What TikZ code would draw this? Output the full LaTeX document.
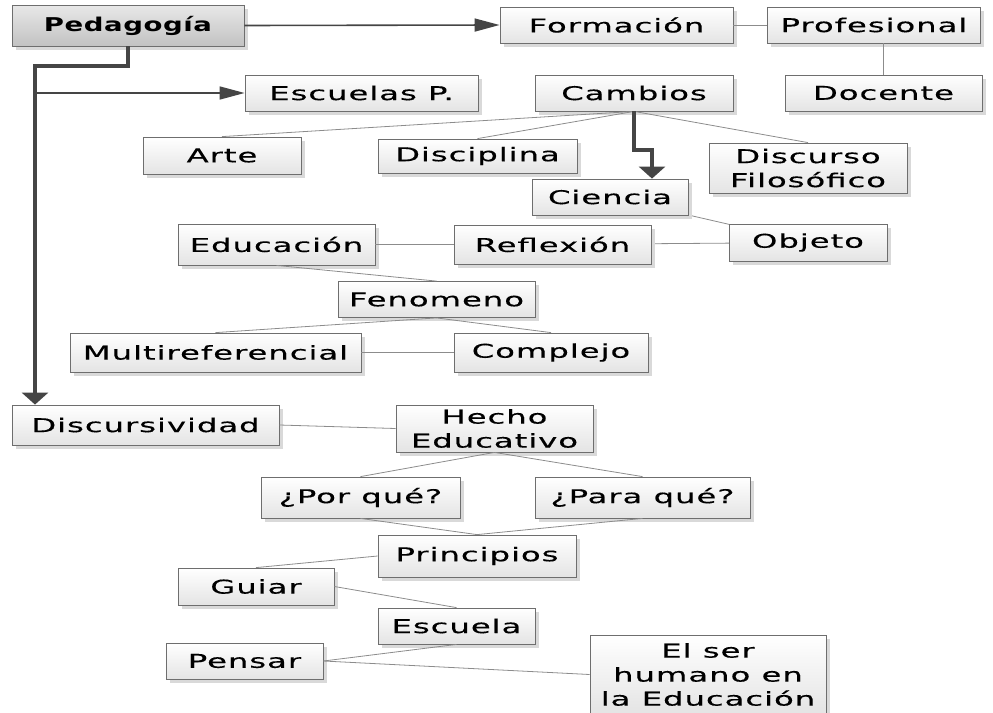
\documentclass[tikz,border=0pt]{standalone}
\usepackage{fontspec}
\setmainfont{DejaVu Sans}[FakeStretch=1.7, LetterSpace=5, FakeBold=0.3,
  BoldFeatures={FakeStretch=1.45, LetterSpace=3, FakeBold=0}]
\usetikzlibrary{arrows.meta,shadows,backgrounds,calc}

\definecolor{boxline}{HTML}{6E6E6E}
\definecolor{boxlow}{HTML}{E4E4E4}
\definecolor{linkgray}{HTML}{8C8C8C}
\definecolor{arrowdark}{HTML}{454545}

\tikzset{
  concept/.style={rectangle, draw=boxline, line width=0.8pt,
    top color=white, bottom color=boxlow, inner sep=0pt,
    align=center, font=\fontsize{19}{24}\selectfont,
    drop shadow={shadow xshift=3.5pt, shadow yshift=-3.5pt, fill=black!15, opacity=1}},
  rootbox/.style={concept, top color=black!9, bottom color=black!24,
    font=\fontsize{19}{24}\selectfont\bfseries},
  link/.style={draw=linkgray, line width=0.8pt},
  thinarrow/.style={draw=arrowdark, line width=1.6pt,
    -{Triangle[length=25pt,width=13pt]}},
  trunk/.style={draw=arrowdark, line width=3.5pt,
    -{Triangle[length=12pt,width=26pt]}},
}

\begin{document}
\begin{tikzpicture}[x=1pt,y=-1pt]
\useasboundingbox (0,0) rectangle (993,712);

% concept boxes
\node[rootbox, minimum width=232pt, minimum height=41pt] (ped) at (128,25.5) {Pedagogía};
\node[concept, minimum width=233pt, minimum height=36pt] (form) at (616.5,25) {Formación};
\node[concept, minimum width=213pt, minimum height=36pt] (prof) at (874,25) {Profesional};
\node[concept, minimum width=197pt, minimum height=36pt] (doc) at (883.5,93) {Docente};
\node[concept, minimum width=233pt, minimum height=36pt] (esc) at (361.5,93) {Escuelas P.};
\node[concept, minimum width=198pt, minimum height=36pt] (camb) at (634,93) {Cambios};
\node[concept, minimum width=158pt, minimum height=37pt] (arte) at (222,155.5) {Arte};
\node[concept, minimum width=199pt, minimum height=34pt] (disc) at (477.5,156) {Disciplina};
\node[concept, minimum width=198pt, minimum height=50pt] (dfil) at (808,168) {Discurso\\Filosófico};
\node[concept, minimum width=156pt, minimum height=36pt] (cien) at (610,197) {Ciencia};
\node[concept, minimum width=158pt, minimum height=37pt] (obj) at (808,242.5) {Objeto};
\node[concept, minimum width=197pt, minimum height=39pt] (refl) at (552.5,244.5) {Reflexión};
\node[concept, minimum width=197pt, minimum height=41pt] (educ) at (276.5,244.5) {Educación};
\node[concept, minimum width=197pt, minimum height=36pt] (fen) at (436.5,299.5) {Fenomeno};
\node[concept, minimum width=291pt, minimum height=39pt] (multi) at (215.5,352.5) {Multireferencial};
\node[concept, minimum width=194pt, minimum height=39pt] (comp) at (551,352.5) {Complejo};
\node[concept, minimum width=267pt, minimum height=40pt] (disv) at (145.5,425) {Discursividad};
\node[concept, minimum width=197pt, minimum height=47pt] (hecho) at (494.5,428.5) {Hecho\\Educativo};
\node[concept, minimum width=199pt, minimum height=41pt] (porq) at (360.5,497.5) {¿Por qué?};
\node[concept, minimum width=215pt, minimum height=41pt] (parq) at (642.5,497.5) {¿Para qué?};
\node[concept, minimum width=198pt, minimum height=42pt] (princ) at (477,556) {Principios};
\node[concept, minimum width=156pt, minimum height=37pt] (guiar) at (256,586.5) {Guiar};
\node[concept, minimum width=157pt, minimum height=36pt] (escu) at (456.5,626) {Escuela};
\node[concept, minimum width=157pt, minimum height=36pt] (pens) at (244.5,661) {Pensar};
\node[concept, minimum width=236pt, minimum height=79pt] (elser) at (708,674.5) {El ser\\humano en\\la Educación};

% trunk coordinates
\coordinate (tk) at (35,66);
\coordinate (bend) at (634,150);

\begin{pgfonlayer}{background}
  \draw[link] (cien.center) -- (obj.center);
  \draw[link] (refl.center) -- (obj.center);
\end{pgfonlayer}

% thin links between concepts
\draw[link] (form.east) -- (prof.west);
\draw[link] (doc.north) -- (doc.north |- prof.south);
\draw[link] (camb.south) -- (arte.north);
\draw[link] (camb.south) -- (disc.north);
\draw[link] (camb.south) -- (dfil.north);
\draw[link] (educ.east) -- (refl.west);
\draw[link] (educ.south) -- (fen.north);
\draw[link] (fen.south) -- (multi.north);
\draw[link] (fen.south) -- (comp.north);
\draw[link] (multi.east) -- (comp.west);
\draw[link] (disv.east) -- (hecho.west);
\draw[link] (hecho.south) -- (porq.north);
\draw[link] (hecho.south) -- (parq.north);
\draw[link] (porq.south) -- (princ.north);
\draw[link] (parq.south) -- (princ.north);
\draw[link] (guiar.north) -- (princ.west);
\draw[link] (guiar.east) -- (escu.north);
\draw[link] (pens.east) -- (escu.south);
\draw[link] (pens.east) -- (elser.west);

% arrows
\draw[thinarrow] (ped.east) -- (form.west);
\draw[thinarrow] (tk |- esc.west) -- (esc.west);
\draw[trunk] (ped.south) |- (tk) -- (tk |- disv.north);
\draw[trunk] (camb.south) -- (bend) -| ($(cien.north)+(42,0)$);
\end{tikzpicture}
\end{document}
